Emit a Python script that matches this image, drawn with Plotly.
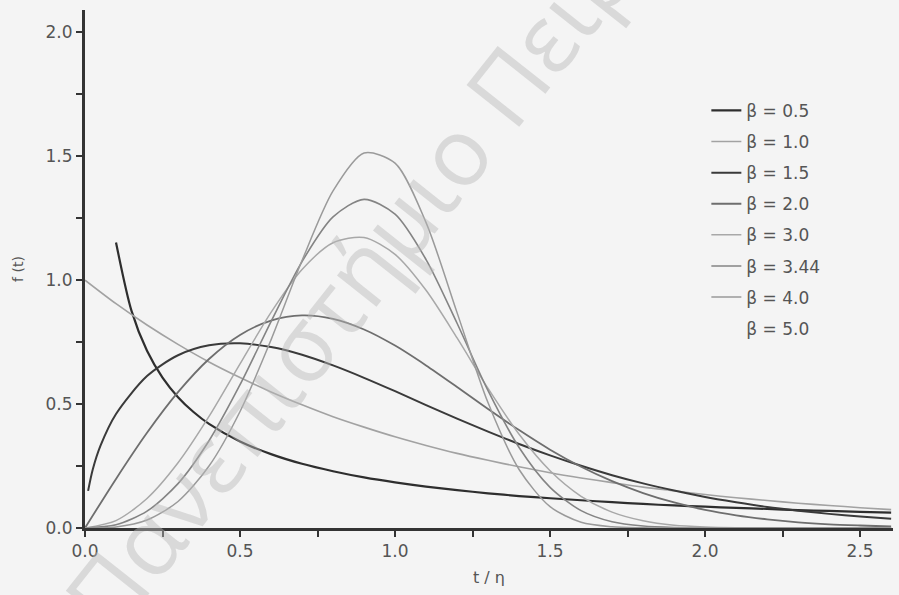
import plotly.graph_objects as go

# ---- data ----
t_common = [0.0, 0.1, 0.2, 0.3, 0.4, 0.5, 0.6, 0.7, 0.8, 0.9, 1.0, 1.1, 1.2, 1.3,
            1.4, 1.5, 1.6, 1.7, 1.8, 1.9, 2.0, 2.1, 2.2, 2.3, 2.4, 2.5, 2.6]
t_b05 = [0.1, 0.15, 0.2, 0.25, 0.3, 0.35, 0.4, 0.5, 0.6, 0.7, 0.8, 0.9, 1.0, 1.1,
         1.2, 1.3, 1.4, 1.5, 1.6, 1.7, 1.8, 1.9, 2.0, 2.1, 2.2, 2.3, 2.4, 2.5, 2.6]
t_b15 = [0.01, 0.025, 0.05, 0.1, 0.2, 0.3, 0.4, 0.5, 0.6, 0.7, 0.8, 0.9, 1.0, 1.1,
         1.2, 1.3, 1.4, 1.5, 1.6, 1.7, 1.8, 1.9, 2.0, 2.1, 2.2, 2.3, 2.4, 2.5, 2.6]

f_b05 = [1.152, 0.876, 0.715, 0.607, 0.528, 0.468, 0.420, 0.349, 0.298, 0.259, 0.229,
         0.204, 0.184, 0.167, 0.153, 0.140, 0.129, 0.120, 0.112, 0.104, 0.097, 0.091,
         0.086, 0.081, 0.077, 0.072, 0.069, 0.065, 0.062]
f_b10 = [1.000, 0.905, 0.819, 0.741, 0.670, 0.607, 0.549, 0.497, 0.449, 0.407, 0.368,
         0.333, 0.301, 0.273, 0.247, 0.223, 0.202, 0.183, 0.165, 0.150, 0.135, 0.122,
         0.111, 0.100, 0.091, 0.082, 0.074]
f_b15 = [0.150, 0.236, 0.332, 0.460, 0.613, 0.697, 0.737, 0.745, 0.730, 0.699, 0.656,
         0.606, 0.552, 0.496, 0.441, 0.389, 0.339, 0.293, 0.251, 0.213, 0.180, 0.151,
         0.125, 0.104, 0.085, 0.070, 0.057, 0.046, 0.037]
f_b20 = [0.000, 0.198, 0.384, 0.548, 0.682, 0.779, 0.837, 0.858, 0.844, 0.801, 0.736,
         0.656, 0.569, 0.480, 0.395, 0.316, 0.247, 0.189, 0.141, 0.103, 0.073, 0.051,
         0.035, 0.023, 0.015, 0.010, 0.006]
f_b30 = [0.000, 0.030, 0.119, 0.263, 0.450, 0.662, 0.870, 1.043, 1.151, 1.172, 1.104,
         0.959, 0.767, 0.563, 0.378, 0.231, 0.128, 0.064, 0.029, 0.011, 0.004, 0.001,
         0.000, 0.000, 0.000, 0.000, 0.000]
f_b344 = [0.000, 0.013, 0.068, 0.179, 0.352, 0.578, 0.833, 1.075, 1.255, 1.326, 1.266,
          1.083, 0.826, 0.554, 0.325, 0.164, 0.070, 0.025, 0.008, 0.002, 0.000, 0.000,
          0.000, 0.000, 0.000, 0.000, 0.000]
f_b40 = [0.000, 0.004, 0.032, 0.107, 0.250, 0.470, 0.759, 1.079, 1.360, 1.513, 1.472,
         1.232, 0.869, 0.505, 0.236, 0.086, 0.023, 0.005, 0.001, 0.000, 0.000, 0.000,
         0.000, 0.000, 0.000, 0.000, 0.000]

series_names = ["β = 0.5", "β = 1.0", "β = 1.5", "β = 2.0", "β = 3.0", "β = 3.44", "β = 4.0"]
x_tick_vals = [0.0, 0.5, 1.0, 1.5, 2.0, 2.5]
y_tick_vals = [0.0, 0.5, 1.0, 1.5, 2.0]
extra_legend = "β = 5.0"
watermark = "Πανεπιστήμιο Πειραιώς"

# ---- styling ----
xs = [t_b05, t_common, t_b15, t_common, t_common, t_common, t_common]
ys = [f_b05, f_b10, f_b15, f_b20, f_b30, f_b344, f_b40]
colors = ["#2e2e2e", "#a2a2a2", "#3a3a3a", "#6e6e6e", "#a8a8a8", "#848484", "#9a9a9a"]
widths = [2.2, 1.6, 2.0, 1.8, 1.5, 1.6, 1.5]

FONT = "DejaVu Sans"
BG = "#f4f4f4"
AX = "#333333"

fig = go.Figure()
for i, (x, y) in enumerate(zip(xs, ys)):
    fig.add_trace(go.Scatter(
        x=x, y=y, mode="lines", name=series_names[i],
        line=dict(color=colors[i], width=widths[i], shape="spline", smoothing=0.8),
        legendgroup=f"g{i}", hoverinfo="skip"))
fig.add_trace(go.Scatter(
    x=[None], y=[None], mode="lines", name=extra_legend,
    line=dict(color="rgba(0,0,0,0)", width=1), legendgroup="g7"))

fig.add_annotation(
    text=watermark, xref="paper", yref="paper", x=0.405, y=0.625,
    xanchor="center", yanchor="middle", showarrow=False, textangle=-51.6,
    font=dict(family="Open Sans", size=94, color="rgba(185,185,185,0.45)"))

fig.update_layout(
    width=899, height=595,
    margin=dict(l=85, r=6, t=10, b=67),
    paper_bgcolor=BG, plot_bgcolor=BG,
    font=dict(family=FONT, color="#555555", size=17),
    showlegend=True,
    legend=dict(x=0.769, y=0.84, xanchor="left", yanchor="top",
                bgcolor="rgba(0,0,0,0)", borderwidth=0,
                font=dict(family=FONT, size=17, color="#555555"),
                traceorder="grouped", tracegroupgap=6),
    xaxis=dict(range=[0, 2.606], showgrid=False, zeroline=False,
               showline=True, linecolor=AX, linewidth=3,
               ticks="outside", ticklen=6, tickwidth=2, tickcolor=AX,
               tickvals=x_tick_vals, tickformat=".1f",
               minor=dict(dtick=0.25, tick0=0, ticks="outside", ticklen=6,
                          tickwidth=2, tickcolor=AX),
               title=dict(text="t / η", font=dict(size=16, family=FONT), standoff=12)),
    yaxis=dict(range=[0, 2.09], showgrid=False, zeroline=False,
               showline=True, linecolor=AX, linewidth=3,
               ticks="outside", ticklen=6, tickwidth=2, tickcolor=AX,
               tickvals=y_tick_vals, tickformat=".1f",
               minor=dict(dtick=0.25, tick0=0, ticks="outside", ticklen=6,
                          tickwidth=2, tickcolor=AX),
               title=dict(text="f (t)", font=dict(size=14, family=FONT), standoff=19)),
)

fig.write_html("out.html")
